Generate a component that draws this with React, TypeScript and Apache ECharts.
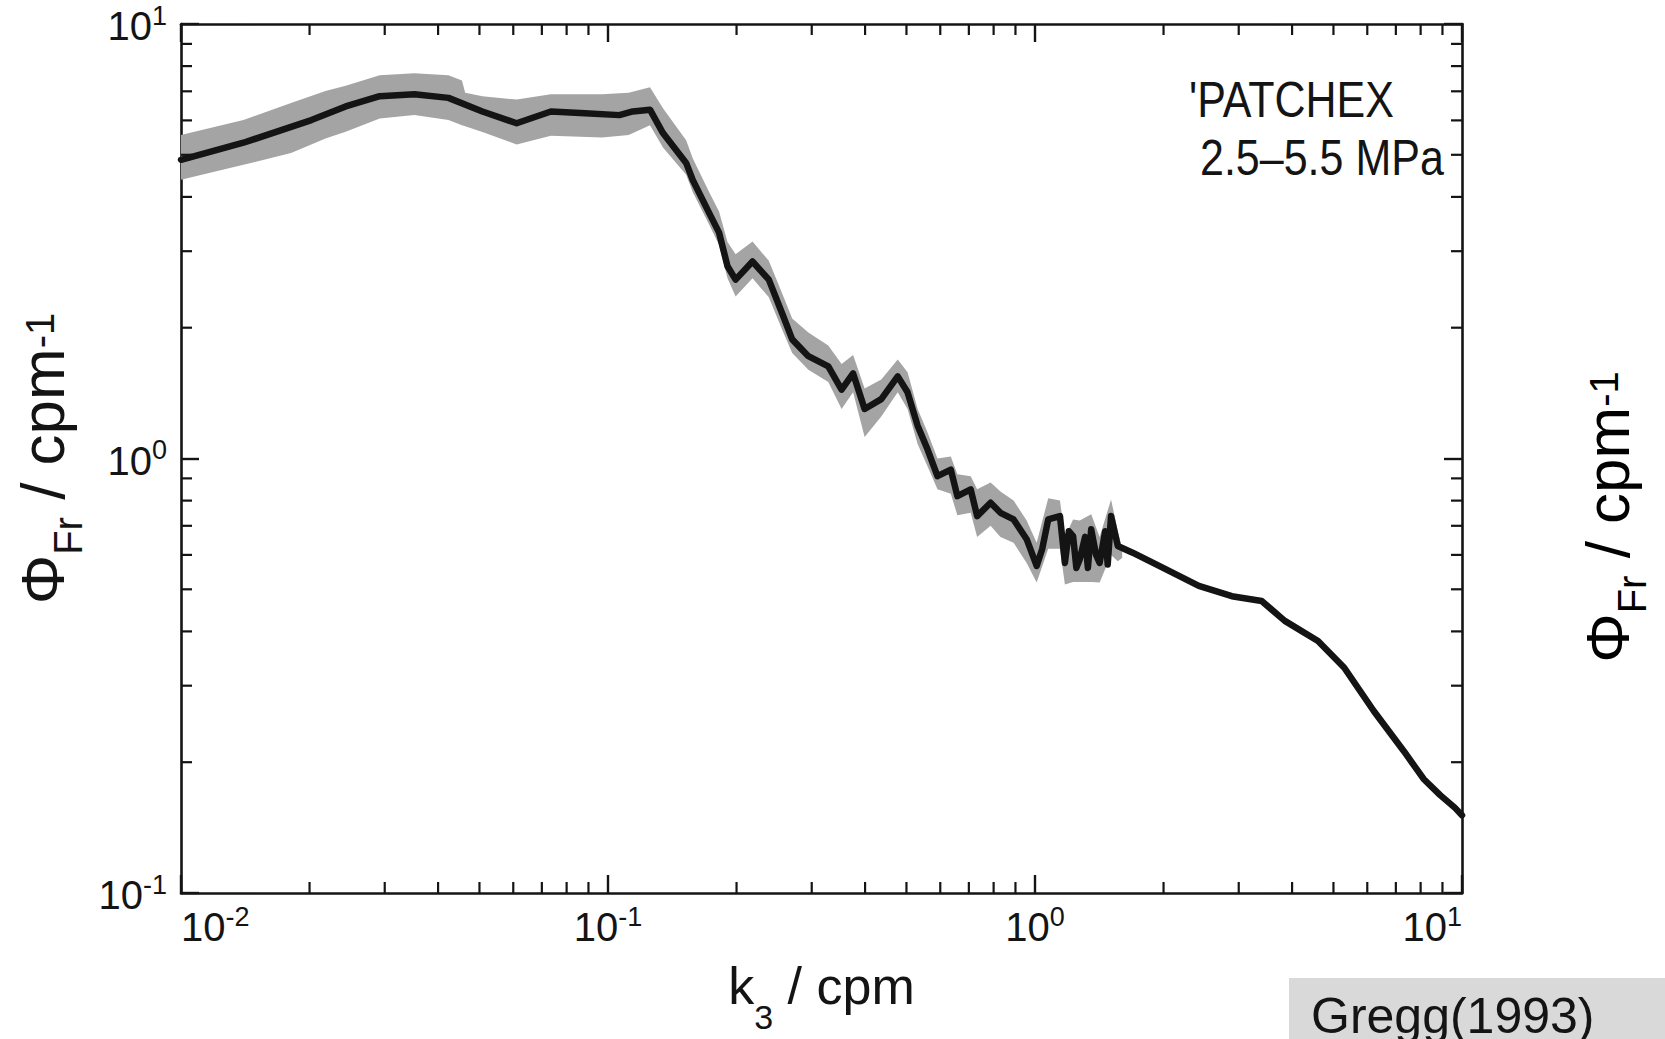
import React, { useEffect, useRef } from "react";
import * as echarts from "echarts";

// ---- data (k3 in cpm, Phi_Fr in cpm^-1) ----
const lineK = [
  0.01, 0.014, 0.0202, 0.0243, 0.0292, 0.0352, 0.0423, 0.0508, 0.0611, 0.0735,
  0.0883, 0.1063, 0.1143, 0.1254, 0.1345, 0.1524, 0.158, 0.1726, 0.182, 0.1905,
  0.199, 0.218, 0.238, 0.2557, 0.27, 0.2946, 0.328, 0.3524, 0.375, 0.399,
  0.4365, 0.477, 0.503, 0.531, 0.56, 0.591, 0.635, 0.658, 0.707, 0.732,
  0.787, 0.83, 0.891, 0.956, 1.009, 1.04, 1.074, 1.144, 1.175, 1.2,
  1.228, 1.25, 1.273, 1.31, 1.33, 1.354, 1.39, 1.417, 1.46, 1.48,
  1.507, 1.563, 1.693, 1.953, 2.419, 2.891, 3.395, 3.846, 4.6, 5.3,
  6.22, 7.31, 8.13, 8.89, 9.63, 10.0,
];
const lineV = [
  4.87, 5.33, 6.01, 6.46, 6.82, 6.89, 6.76, 6.29, 5.91, 6.29,
  6.23, 6.17, 6.29, 6.35, 5.61, 4.79, 4.37, 3.67, 3.31, 2.77,
  2.58, 2.84, 2.58, 2.16, 1.88, 1.72, 1.63, 1.44, 1.57, 1.3,
  1.37, 1.545, 1.42, 1.19, 1.05, 0.911, 0.943, 0.819, 0.849, 0.737,
  0.791, 0.75, 0.724, 0.652, 0.566, 0.62, 0.724, 0.737, 0.575, 0.68,
  0.663, 0.56, 0.586, 0.66, 0.56, 0.687, 0.6, 0.575, 0.68, 0.57,
  0.737, 0.629, 0.607, 0.566, 0.509, 0.482, 0.47, 0.423, 0.38, 0.33,
  0.262, 0.212, 0.183, 0.168, 0.157, 0.151,
];

// confidence band (upper / lower envelope)
const bandK = [
  0.01, 0.014, 0.0181, 0.0218, 0.0243, 0.0292, 0.0352, 0.0423, 0.0455, 0.0463,
  0.0508, 0.0611, 0.0735, 0.0969, 0.1118, 0.1254, 0.1345, 0.1524, 0.158, 0.1726,
  0.182, 0.1905, 0.199, 0.218, 0.238, 0.2557, 0.27, 0.2946, 0.328, 0.3524,
  0.375, 0.399, 0.4365, 0.477, 0.503, 0.531, 0.56, 0.591, 0.635, 0.658,
  0.707, 0.732, 0.787, 0.83, 0.891, 0.956, 1.009, 1.074, 1.144, 1.175,
  1.228, 1.273, 1.354, 1.417, 1.507, 1.563, 1.6,
];
const bandHi = [
  5.55, 6.01, 6.58, 7.01, 7.21, 7.62, 7.7, 7.62, 7.41, 6.95,
  6.82, 6.7, 6.89, 6.89, 6.95, 7.15, 6.4, 5.4, 4.9, 4.1,
  3.7, 3.15, 2.95, 3.16, 2.85, 2.4, 2.1, 1.95, 1.82, 1.65,
  1.73, 1.45, 1.52, 1.69, 1.58, 1.3, 1.15, 1.0, 1.01, 0.92,
  0.91, 0.85, 0.88, 0.84, 0.8, 0.72, 0.64, 0.81, 0.8, 0.66,
  0.724, 0.72, 0.744, 0.66, 0.805, 0.68, 0.62,
];
const bandLo = [
  4.38, 4.74, 5.05, 5.45, 5.65, 6.06, 6.17, 6.01, 5.85, 5.82,
  5.64, 5.28, 5.53, 5.48, 5.55, 5.85, 5.2, 4.5, 4.1, 3.45,
  3.1, 2.6, 2.36, 2.6, 2.35, 1.98, 1.75, 1.6, 1.5, 1.3,
  1.42, 1.12, 1.25, 1.42, 1.3, 1.08, 0.96, 0.85, 0.83, 0.74,
  0.75, 0.66, 0.7, 0.66, 0.64, 0.575, 0.518, 0.62, 0.62, 0.513,
  0.52, 0.52, 0.52, 0.518, 0.6, 0.58, 0.59,
];

// axes
const X_MIN = 0.01;
const X_MAX = 10;
const Y_MIN = 0.1;
const Y_MAX = 10;
const minorMultipliers = [2, 3, 4, 5, 6, 7, 8, 9];
const xDecades = [0.01, 0.1, 1];
const yDecades = [0.1, 1];

const annotationLines = ["'PATCHEX", "2.5\u20135.5 MPa"];
const sourceText = "Gregg(1993)";

const INK = "#141414";
const SANS = '"Liberation Sans", Arial, Helvetica, sans-serif';

const tickRich = {
  b: { fontSize: 40, lineHeight: 44, fontFamily: SANS, color: INK, verticalAlign: "bottom" },
  s: { fontSize: 27, lineHeight: 27, fontFamily: SANS, color: INK, verticalAlign: "top" },
};

const xTitleRich = {
  a: { fontSize: 52, lineHeight: 60, fontFamily: SANS, color: INK, verticalAlign: "top" },
  sub: { fontSize: 34, lineHeight: 34, fontFamily: SANS, color: INK, verticalAlign: "top", padding: [40, 0, 0, 0] },
};

const yTitleRich = {
  a: { fontSize: 62, lineHeight: 72, fontFamily: SANS, color: INK, verticalAlign: "top" },
  sub: { fontSize: 40, lineHeight: 40, fontFamily: SANS, color: INK, verticalAlign: "top", padding: [36, 0, 0, 0] },
  sup: { fontSize: 40, lineHeight: 40, fontFamily: SANS, color: INK, verticalAlign: "top", padding: [8, 0, 0, 0] },
};

const Y_TITLE = "{a|\u03A6}{sub|Fr}{a| / cpm}{sup|-1}";

const powLabel = (v: number) => {
  const e = Math.round(Math.log10(v));
  return `{b|10}{s|${e}}`;
};

export default function App() {
  const ref = useRef<HTMLDivElement>(null);

  useEffect(() => {
    if (!ref.current) return;
    const chart = echarts.init(ref.current, null, { renderer: "svg" });

    const xMinor: number[] = [];
    xDecades.forEach((d) => minorMultipliers.forEach((m) => xMinor.push(+(d * m).toPrecision(3))));
    const yMinor: number[] = [];
    yDecades.forEach((d) => minorMultipliers.forEach((m) => yMinor.push(+(d * m).toPrecision(3))));

    const MINOR_LEN = 11;
    const tickStyle = { stroke: INK, lineWidth: 2.2 };

    const axisLine = { show: true, lineStyle: { color: INK, width: 2.6 } };
    const majorTick = { show: true, inside: true, length: 18, lineStyle: { color: INK, width: 2.4 } };

    const option: any = {
      animation: false,
      backgroundColor: "#ffffff",
      grid: { left: 181, right: 203, top: 24, bottom: 145, containLabel: false },
      xAxis: [
        {
          type: "log",
          logBase: 10,
          min: X_MIN,
          max: X_MAX,
          position: "bottom",
          axisLine,
          axisTick: majorTick,
          splitLine: { show: false },
          minorTick: { show: false },
          axisLabel: {
            formatter: powLabel,
            rich: tickRich,
            margin: 10,
            alignMinLabel: "left",
            alignMaxLabel: "right",
          },
          name: "{a|k}{sub|3}{a| / cpm}",
          nameLocation: "middle",
          nameGap: 67,
          nameTextStyle: { rich: xTitleRich },
        },
        {
          type: "log",
          logBase: 10,
          min: X_MIN,
          max: X_MAX,
          position: "top",
          axisLine,
          axisTick: majorTick,
          splitLine: { show: false },
          axisLabel: { show: false },
        },
      ],
      yAxis: [
        {
          type: "log",
          logBase: 10,
          min: Y_MIN,
          max: Y_MAX,
          position: "left",
          axisLine,
          axisTick: majorTick,
          splitLine: { show: false },
          axisLabel: { formatter: powLabel, rich: tickRich, margin: 14 },
          name: Y_TITLE,
          nameLocation: "middle",
          nameRotate: 90,
          nameGap: 78,
          nameTextStyle: { rich: yTitleRich },
        },
        {
          type: "log",
          logBase: 10,
          min: Y_MIN,
          max: Y_MAX,
          position: "right",
          axisLine,
          axisTick: majorTick,
          splitLine: { show: false },
          axisLabel: { show: false },
        },
      ],
      series: [
        {
          type: "custom",
          name: "band",
          xAxisIndex: 0,
          yAxisIndex: 0,
          silent: true,
          z: 1,
          data: [[bandK[0], bandHi[0]]],
          renderItem: (_params: any, api: any) => {
            const pts: number[][] = [];
            for (let i = 0; i < bandK.length; i++) pts.push(api.coord([bandK[i], bandHi[i]]));
            for (let i = bandK.length - 1; i >= 0; i--) pts.push(api.coord([bandK[i], bandLo[i]]));
            return { type: "polygon", shape: { points: pts }, style: { fill: "#a4a4a4", stroke: "none" } };
          },
        },
        {
          type: "line",
          name: "spectrum",
          xAxisIndex: 0,
          yAxisIndex: 0,
          z: 3,
          showSymbol: false,
          symbol: "none",
          smooth: false,
          data: lineK.map((k, i) => [k, lineV[i]]),
          lineStyle: { color: INK, width: 6.5, join: "round", cap: "round" },
        },
        {
          type: "custom",
          name: "xMinorTicks",
          xAxisIndex: 0,
          yAxisIndex: 0,
          silent: true,
          z: 4,
          data: xMinor.map((k) => [k, Y_MIN]),
          renderItem: (_params: any, api: any) => {
            const k = api.value(0);
            const b = api.coord([k, Y_MIN]);
            const t = api.coord([k, Y_MAX]);
            return {
              type: "group",
              children: [
                { type: "line", shape: { x1: b[0], y1: b[1], x2: b[0], y2: b[1] - MINOR_LEN }, style: tickStyle },
                { type: "line", shape: { x1: t[0], y1: t[1], x2: t[0], y2: t[1] + MINOR_LEN }, style: tickStyle },
              ],
            };
          },
        },
        {
          type: "custom",
          name: "yMinorTicks",
          xAxisIndex: 0,
          yAxisIndex: 0,
          silent: true,
          z: 4,
          data: yMinor.map((v) => [X_MIN, v]),
          renderItem: (_params: any, api: any) => {
            const v = api.value(1);
            const l = api.coord([X_MIN, v]);
            const r = api.coord([X_MAX, v]);
            return {
              type: "group",
              children: [
                { type: "line", shape: { x1: l[0], y1: l[1], x2: l[0] + MINOR_LEN, y2: l[1] }, style: tickStyle },
                { type: "line", shape: { x1: r[0], y1: r[1], x2: r[0] - MINOR_LEN, y2: r[1] }, style: tickStyle },
              ],
            };
          },
        },
      ],
      graphic: [
        {
          type: "text",
          x: 1189,
          y: 100,
          scaleX: 0.86,
          style: {
            text: annotationLines[0],
            font: `50px ${SANS}`,
            fill: INK,
            verticalAlign: "middle",
            textVerticalAlign: "middle",
          },
        },
        {
          type: "text",
          x: 1200,
          y: 158,
          scaleX: 0.86,
          style: {
            text: annotationLines[1],
            font: `50px ${SANS}`,
            fill: INK,
            verticalAlign: "middle",
            textVerticalAlign: "middle",
          },
        },
        {
          type: "text",
          x: 1612,
          y: 517,
          rotation: Math.PI / 2,
          style: {
            text: Y_TITLE,
            rich: yTitleRich,
            align: "center",
            verticalAlign: "middle",
            textAlign: "center",
            textVerticalAlign: "middle",
          },
        },
        {
          type: "rect",
          shape: { x: 1289, y: 978, width: 376, height: 61 },
          style: { fill: "#d9d9d9" },
        },
        {
          type: "text",
          x: 1311,
          y: 1016,
          style: {
            text: sourceText,
            font: `50px ${SANS}`,
            fill: INK,
            verticalAlign: "middle",
            textVerticalAlign: "middle",
          },
        },
      ],
    };

    chart.setOption(option);
    return () => chart.dispose();
  }, []);

  return (
    <div
      ref={ref}
      style={{ position: "absolute", left: 0, top: 0, width: 1665, height: 1039, background: "#fff" }}
    />
  );
}
